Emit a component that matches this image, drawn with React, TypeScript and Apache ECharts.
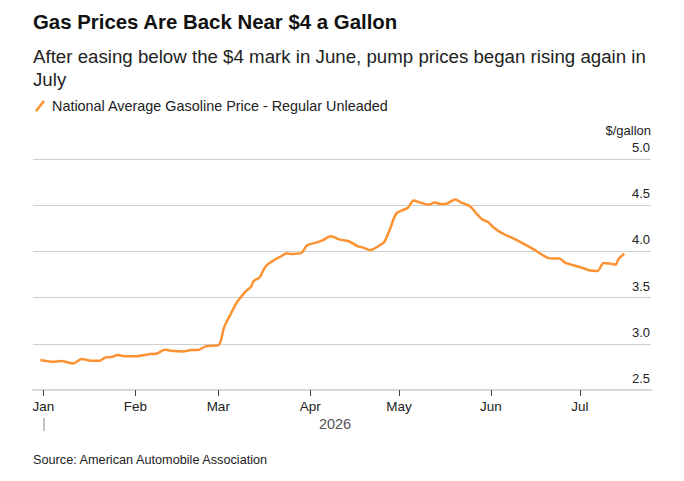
import React, { useEffect, useRef } from "react";
import * as echarts from "echarts";

const titleText = "Gas Prices Are Back Near $4 a Gallon";
const subtitleText = "After easing below the $4 mark in June, pump prices began rising again in\nJuly";
const seriesName = "National Average Gasoline Price - Regular Unleaded";
const sourceText = "Source: American Automobile Association";
const unitText = "$/gallon";
const yearText = "2026";
const monthLabels = ["Jan", "Feb", "Mar", "Apr", "May", "Jun", "Jul", "Aug", "Sep", "Oct", "Nov", "Dec"];

const dates = [
  "2025-12-31", "2026-01-04", "2026-01-07", "2026-01-11", "2026-01-14", "2026-01-17", "2026-01-20",
  "2026-01-22", "2026-01-24", "2026-01-26", "2026-01-29", "2026-02-01", "2026-02-04", "2026-02-06",
  "2026-02-08", "2026-02-11", "2026-02-14", "2026-02-17", "2026-02-20", "2026-02-22", "2026-02-25",
  "2026-03-01", "2026-03-03", "2026-03-05", "2026-03-07", "2026-03-08", "2026-03-10", "2026-03-12",
  "2026-03-13", "2026-03-15", "2026-03-17", "2026-03-20", "2026-03-22", "2026-03-24", "2026-03-26",
  "2026-03-29", "2026-03-31", "2026-04-03", "2026-04-05", "2026-04-08", "2026-04-11", "2026-04-14",
  "2026-04-17", "2026-04-19", "2026-04-21", "2026-04-22", "2026-04-25", "2026-04-26", "2026-04-28",
  "2026-04-30", "2026-05-02", "2026-05-04", "2026-05-06", "2026-05-08", "2026-05-11", "2026-05-13",
  "2026-05-15", "2026-05-17", "2026-05-20", "2026-05-22", "2026-05-25", "2026-05-27", "2026-05-29",
  "2026-05-31", "2026-06-02", "2026-06-05", "2026-06-07", "2026-06-08", "2026-06-11", "2026-06-13",
  "2026-06-15", "2026-06-18", "2026-06-20", "2026-06-22", "2026-06-24", "2026-06-26", "2026-06-28",
  "2026-06-30", "2026-07-03", "2026-07-04", "2026-07-07", "2026-07-09", "2026-07-11", "2026-07-13",
  "2026-07-14", "2026-07-16",
];

const prices = [
  2.824, 2.806, 2.813, 2.788, 2.835, 2.817, 2.817,
  2.853, 2.856, 2.878, 2.864, 2.864, 2.878, 2.889,
  2.892, 2.935, 2.921, 2.918, 2.932, 2.932, 2.975,
  2.983, 3.18, 3.31, 3.436, 3.48, 3.56, 3.615,
  3.68, 3.72, 3.84, 3.91, 3.944, 3.976, 3.972,
  3.983, 4.066, 4.095, 4.117, 4.163, 4.127, 4.11,
  4.058, 4.04, 4.015, 4.02, 4.077, 4.1, 4.246,
  4.408, 4.444, 4.473, 4.552, 4.53, 4.505, 4.53,
  4.512, 4.516, 4.563, 4.527, 4.487, 4.415, 4.347,
  4.318, 4.257, 4.192, 4.163, 4.149, 4.1, 4.066,
  4.03, 3.969, 3.933, 3.922, 3.922, 3.879, 3.857,
  3.84, 3.81, 3.796, 3.789, 3.875, 3.868, 3.857,
  3.915, 3.976,
];

const yMin = 2.5;
const yMax = 5.0;
const yStep = 0.5;
const xMin = "2025-12-28 12:00:00";
const xMax = "2026-07-25 00:00:00";

const FONT = "'Liberation Sans', Arial, Helvetica, sans-serif";
const ORANGE = "#fd9233";

export default function App() {
  const ref = useRef<HTMLDivElement>(null);

  useEffect(() => {
    if (!ref.current) return;
    const chart = echarts.init(ref.current, undefined, { renderer: "svg" });
    const data = dates.map((d, i) => [d, prices[i]]);
    chart.setOption({
      animation: false,
      backgroundColor: "#ffffff",
      textStyle: { fontFamily: FONT },
      title: [
        {
          text: titleText,
          left: 33,
          top: 12,
          padding: 0,
          textStyle: { fontFamily: FONT, fontSize: 20.4, fontWeight: "bold", color: "#111" },
        },
        {
          text: subtitleText,
          left: 33,
          top: 45,
          padding: 0,
          textStyle: { fontFamily: FONT, fontSize: 18.7, fontWeight: "normal", color: "#222", lineHeight: 23 },
        },
      ],
      legend: {
        left: 35,
        top: 99,
        padding: 0,
        icon: "path://M0,11 L8,0.5 L10,2 L2,12.5 Z",
        itemWidth: 10,
        itemHeight: 12,
        itemGap: 10,
        textStyle: { fontFamily: FONT, fontSize: 14.4, color: "#222", padding: [0, 0, 0, 2] },
        data: [seriesName],
      },
      grid: { left: 33, right: 33, top: 159, bottom: 91, containLabel: false },
      xAxis: {
        type: "time",
        min: xMin,
        max: xMax,
        minInterval: 28 * 86400000,
        maxInterval: 31 * 86400000,
        splitLine: { show: false },
        axisLine: { show: true, lineStyle: { color: "#d8d8d8", width: 2 } },
        axisTick: { show: true, length: 6, lineStyle: { color: "#444", width: 1 } },
        axisLabel: {
          margin: 9,
          fontFamily: FONT,
          fontSize: 13.5,
          color: "#222",
          showMinLabel: false,
          showMaxLabel: false,
          formatter: (val: number) => monthLabels[new Date(val).getMonth()],
        },
      },
      yAxis: {
        type: "value",
        position: "right",
        min: yMin,
        max: yMax,
        interval: yStep,
        axisLine: { show: false },
        axisTick: { show: false },
        splitLine: { show: true, lineStyle: { color: "#cfcfcf", width: 1 } },
        axisLabel: {
          inside: true,
          margin: 1,
          verticalAlign: "bottom",
          padding: [0, 0, 5, 0],
          fontFamily: FONT,
          fontSize: 13,
          color: "#222",
          formatter: (v: number) => v.toFixed(1),
        },
      },
      series: [
        {
          name: seriesName,
          type: "line",
          data,
          showSymbol: false,
          symbol: "none",
          smooth: 0.3,
          color: ORANGE,
          lineStyle: { color: ORANGE, width: 2.5 },
        },
      ],
      graphic: [
        {
          type: "text",
          right: 33,
          top: 124,
          style: { text: unitText, font: `13px ${FONT}`, fill: "#222", textAlign: "right" },
        },
        {
          type: "line",
          shape: { x1: 44, y1: 418, x2: 44, y2: 431 },
          style: { stroke: "#888", lineWidth: 1 },
        },
        {
          type: "text",
          x: 335,
          y: 424,
          style: { text: yearText, font: `14.5px ${FONT}`, fill: "#555", textAlign: "center", textVerticalAlign: "middle" },
        },
        {
          type: "text",
          x: 33,
          y: 460,
          style: { text: sourceText, font: `12.7px ${FONT}`, fill: "#222", textVerticalAlign: "middle" },
        },
      ],
    });
    return () => chart.dispose();
  }, []);

  return (
    <div
      ref={ref}
      style={{ position: "absolute", left: 0, top: 0, width: 684, height: 481 }}
    />
  );
}
